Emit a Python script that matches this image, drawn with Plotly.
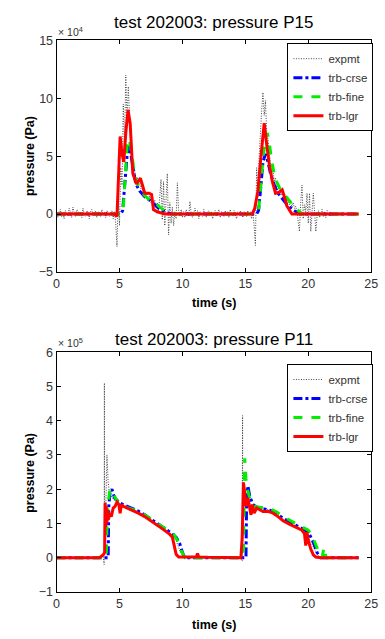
import numpy as np
import plotly.graph_objects as go

# ---------------- top panel: P15 (values in units of 1e4 Pa) ----------------
p15_exp_seg_starts = [0.0, 4.7, 6.1, 8.0, 10.1, 15.7, 17.1, 19.1, 20.3]
p15_exp_segs = [
    [0.1, -0.3, 0.2, 0.4, -0.2, 0.1, -0.4, 0.3, 0.0, -0.2,
     0.5, 0.2, -0.3, 0.6, 0.1, -0.2, 0.4, 0.3, -0.1, 0.2,
     -0.3, 0.5, 0.0, -0.2, 0.3, 0.1, -0.4, 0.2, 0.4, -0.1,
     0.0, 0.3, -0.3, 0.2, 0.1, -0.2, 0.4, -0.1, 0.2, -0.3,
     0.3, 0.0, -0.2, 0.1, 0.3, -0.4, 0.2],
    [-0.8, -2.8, 1.5, -1.0, 4.0, 2.5, 9.5, 6.0, 12.0, 8.0, 11.0, 7.5, 6.0, 4.5],
    [3.5, 3.9, 2.9, 3.2, 2.6, 2.9, 2.2, 2.5, 1.8, 2.1, 1.6, 1.9, 1.2, 1.6, 1.0,
     1.4, 0.8, 1.2, 0.6],
    [1.0, 0.2, 1.5, 3.0, -0.5, 2.8, -1.0, 1.2, 3.5, -1.8, 1.0, -0.8, 0.6, -1.0,
     0.2, -0.4, 2.7, 0.3, -0.2, 0.4, -0.3],
    [0.2, -0.3, 0.4, 0.1, -0.2, 1.1, 0.0, -0.3, 0.2, 0.5,
     -0.1, 0.3, -0.4, 0.2, 0.1, -0.2, 0.4, 0.0, -0.3, 0.2,
     0.3, -0.1, 0.2, -0.4, 0.1, 0.3, -0.2, 0.0, 0.4, -0.3,
     0.2, 0.1, -0.2, 0.3, -0.1, 0.2, -0.3, 0.4, 0.0, -0.2,
     0.3, 0.1, -0.4, 0.2, -0.1, 0.3, 0.0, -0.3, 0.2, 0.1,
     -0.2, 0.3, -0.1, 0.2, -0.4, 0.1],
    [-1.0, -2.7, 4.0, 1.5, 5.0, 7.5, 9.0, 10.5, 8.5, 9.8, 7.0, 6.5, 5.0, 4.2],
    [3.5, 3.8, 2.8, 3.1, 2.3, 2.6, 1.9, 2.2, 1.6, 1.9, 1.3, 1.6, 1.0, 1.4, 0.8,
     1.2, 0.6, 1.0, 0.5, 0.7],
    [0.2, -0.5, -1.5, 1.0, 2.5, -0.4, 0.8, 0.2, 1.8, -0.8, 1.8, -1.5],
    [0.3, 1.8, 0.2, -1.5, -0.2, 0.3, -0.3, 0.1, 0.4, -0.2, 0.2, -0.3, 0.3, 0.0,
     -0.2, 0.2, -0.1, 0.1],
]

p15_crse_t = [0, 5.1, 5.25, 5.45, 5.6, 5.75, 5.9, 6.1, 6.3, 6.6, 7.0, 7.4, 7.8, 8.2, 8.7, 9.2,
              15.9, 16.05, 16.2, 16.4, 16.6, 16.8, 17.0, 17.3, 17.6, 18.0, 18.4, 18.9, 19.3, 24]
p15_crse_y = [0, 0, 0.3, 3.0, 5.0, 5.9, 5.2, 3.8, 2.6, 2.0, 1.5, 1.2, 0.8, 0.4, 0.15, 0,
              0, 0.3, 2.0, 4.5, 5.2, 4.5, 3.5, 2.5, 1.8, 1.2, 0.7, 0.3, 0.0, 0]

p15_fine_t = [0, 5.15, 5.3, 5.45, 5.6, 5.75, 5.9, 6.1, 6.3, 6.6, 7.0, 7.4, 7.8, 8.2, 8.6, 9.0,
              15.9, 16.05, 16.2, 16.4, 16.6, 16.75, 16.9, 17.1, 17.4, 17.7, 18.1, 18.5, 18.9,
              19.3, 19.6, 24]
p15_fine_y = [0, 0, 0.5, 3.5, 5.8, 6.5, 5.8, 4.2, 3.0, 2.2, 1.6, 1.2, 1.0, 0.6, 0.3, 0,
              0, 0.3, 2.0, 4.8, 6.5, 7.0, 6.2, 4.5, 3.0, 2.3, 1.7, 1.1, 0.6,
              0.2, 0, 0]

p15_lgr_t = [0, 4.6, 4.8, 4.95, 5.05, 5.2, 5.34, 5.5, 5.68, 5.85, 6.06, 6.35, 6.66, 6.85,
             7.0, 7.35, 7.55, 7.7, 8.0, 8.6, 15.55, 15.75, 16.0, 16.2, 16.35, 16.5, 16.7,
             16.9, 17.15, 17.4, 17.7, 17.93, 18.1, 18.3, 18.7, 24.0]
p15_lgr_y = [0, 0, -0.2, 3.5, 6.7, 5.2, 4.5, 7.0, 9.0, 7.8, 3.5, 2.6, 3.1, 2.4,
             1.8, 1.8, 1.7, 0.4, 0.2, 0.0, 0.0, 0.5, 2.0, 4.5, 6.5, 7.85, 6.0,
             4.3, 2.8, 1.8, 1.9, 2.1, 1.5, 0.7, 0.0, 0.0]

# ---------------- bottom panel: P11 (values in units of 1e5 Pa) ----------------
p11_exp_t = [0, 3.5, 3.7, 3.78, 3.8, 3.82, 3.85, 3.9, 3.95, 4.0, 4.05, 4.1, 4.2, 4.4, 4.7,
             5.0, 5.5, 6.0, 6.5, 7.0, 7.5, 8.0, 8.5, 9.0, 9.5, 9.8, 10.1, 10.5, 11.0,
             14.6, 14.75, 14.78, 14.8, 14.83, 14.9, 15.0, 15.2, 15.5, 16.0, 16.5, 17.0,
             17.5, 18.0, 18.5, 19.0, 19.5, 20.0, 20.4, 20.7, 21.0, 21.5]
p11_exp_y = [0, 0, 0.05, -0.2, 5.1, 1.0, 1.6, 1.2, 1.8, 3.0, 2.6, 2.2, 1.9, 1.75, 1.65,
             1.58, 1.5, 1.42, 1.33, 1.22, 1.1, 0.98, 0.86, 0.72, 0.5, 0.2, 0.05, 0.02, 0,
             0, -0.1, 4.15, 0.5, 2.2, 2.0, 1.8, 1.65, 1.55, 1.5, 1.45, 1.38,
             1.25, 1.1, 1.0, 0.9, 0.8, 0.6, 0.3, 0.1, 0.0, 0]

p11_crse_t = [0, 4.1, 4.15, 4.25, 4.4, 4.6, 5.0, 5.5, 6.0, 6.5, 7.0, 7.5, 8.0, 8.5, 9.0,
              9.5, 9.8, 10.0, 10.2, 15.05, 15.1, 15.2, 15.35, 15.6, 16.0, 16.5, 17.0,
              17.5, 18.0, 18.5, 19.0, 19.5, 20.0, 20.4, 20.7, 21.0, 24]
p11_crse_y = [0, 0, 1.5, 1.9, 2.0, 1.75, 1.6, 1.52, 1.45, 1.36, 1.25, 1.13, 1.0, 0.88, 0.75,
              0.6, 0.4, 0.15, 0, 0, 1.6, 2.1, 1.8, 1.55, 1.45, 1.42, 1.38,
              1.28, 1.15, 1.05, 0.95, 0.85, 0.75, 0.45, 0.15, 0, 0]

p11_fine_t = [0, 3.95, 4.0, 4.1, 4.25, 4.4, 4.6, 4.9, 5.3, 5.8, 6.3, 6.8, 7.3, 7.8, 8.3,
              8.8, 9.3, 9.7, 9.9, 10.2, 14.85, 14.9, 14.95, 15.05, 15.2, 15.4, 15.7, 16.0,
              16.5, 17.0, 17.5, 18.0, 18.5, 19.0, 19.5, 20.0, 20.3, 20.6, 20.9, 21.1,
              21.25, 21.35, 21.45, 24]
p11_fine_y = [0, 0, 0.8, 1.6, 2.0, 1.95, 1.8, 1.6, 1.5, 1.45, 1.38, 1.3, 1.18, 1.05, 0.93,
              0.82, 0.68, 0.45, 0.2, 0, 0, 1.5, 2.9, 2.3, 1.95, 1.65, 1.5, 1.48,
              1.45, 1.42, 1.33, 1.2, 1.1, 1.0, 0.9, 0.8, 0.65, 0.4, 0.1, 0.0,
              0.3, 0.1, 0.0, 0]

p11_lgr_t = [0, 3.4, 3.7, 3.82, 3.86, 3.9, 3.95, 4.0, 4.05, 4.1, 4.2, 4.35, 4.5, 4.65, 4.8,
             4.95, 5.05, 5.15, 5.3, 5.6, 6.0, 6.5, 7.0, 7.5, 8.0, 8.5, 9.0, 9.2, 9.35, 9.5,
             9.7, 10.5, 11.1, 11.2, 11.3, 12, 14.65, 14.75, 14.85, 14.95, 15.05, 15.2,
             15.35, 15.45, 15.55, 15.7, 15.9, 16.1, 16.4, 16.8, 17.2, 17.6, 18.0, 18.5,
             19.0, 19.5, 19.7, 19.8, 19.9, 20.0, 20.2, 20.4, 20.6, 21.0, 24]
p11_lgr_y = [0, 0, 0.08, 0.15, 1.6, 0.9, 1.5, 1.0, 1.4, 1.1, 1.3, 1.2, 1.45, 1.5, 1.62,
             1.55, 1.3, 1.55, 1.5, 1.45, 1.4, 1.3, 1.2, 1.08, 0.95, 0.82, 0.68, 0.6, 0.35, 0.1,
             0.02, 0.02, 0.02, 0.12, 0.02, 0.01, 0, 0.6, 2.2, 1.9, 1.5, 1.75,
             1.5, 1.25, 1.55, 1.3, 1.45, 1.4, 1.35, 1.35, 1.3, 1.2, 1.08, 0.98,
             0.88, 0.8, 0.7, 0.35, 0.75, 0.5, 0.25, 0.08, 0.02, 0, 0]

series_names = ["expmt", "trb-crse", "trb-fine", "trb-lgr"]
x_ticks = [0, 5, 10, 15, 20, 25]
p15_y_ticks = [-5, 0, 5, 10, 15]
p11_y_ticks = [-1, 0, 1, 2, 3, 4, 5, 6]
titles = ["test 202003: pressure P15", "test 202003: pressure P11"]
exponents = ["× 10<sup>4</sup>", "× 10<sup>5</sup>"]

# build expmt time for P15 from its segments (0.1 s sampling)
p15_exp_t, p15_exp_y = [], []
for st, seg in zip(p15_exp_seg_starts, p15_exp_segs):
    for i, v in enumerate(seg):
        p15_exp_t.append(round(st + 0.1 * i, 2))
        p15_exp_y.append(v)

W, H = 385, 639
FONT = "Liberation Sans, Arial, sans-serif"

styles = [
    dict(color="#333333", width=0.9, dash="1px,1.5px"),
    dict(color="#0000ff", width=3, dash="dashdot"),
    dict(color="#00ee00", width=3, dash="dash"),
    dict(color="#ff0000", width=3, dash="solid"),
]

fig = go.Figure()
panels = [
    ("x", "y", "legend", [(p15_exp_t, p15_exp_y), (p15_crse_t, p15_crse_y),
                          (p15_fine_t, p15_fine_y), (p15_lgr_t, p15_lgr_y)]),
    ("x2", "y2", "legend2", [(p11_exp_t, p11_exp_y), (p11_crse_t, p11_crse_y),
                             (p11_fine_t, p11_fine_y), (p11_lgr_t, p11_lgr_y)]),
]
for xa, ya, lg, data in panels:
    for name, (tt, yy), st in zip(series_names, data, styles):
        fig.add_trace(go.Scatter(x=tt, y=yy, mode="lines", name=name, line=st,
                                 xaxis=xa, yaxis=ya, legend=lg))

def px_x(p):
    return p / W

def px_y(p):
    return 1 - p / H

L, R = 55, 378
axis_common = dict(showline=True, linecolor="black", linewidth=1, mirror="allticks",
                   ticks="inside", ticklen=4, tickcolor="black", showgrid=False,
                   zeroline=False, tickfont=dict(family=FONT, size=12.5, color="#333"))

legend_common = dict(xanchor="left", yanchor="top", bordercolor="black", borderwidth=1,
                     bgcolor="white", font=dict(family=FONT, size=11.5, color="#333"),
                     itemwidth=30, tracegroupgap=0)

fig.update_layout(
    width=W, height=H, margin=dict(l=0, r=0, t=0, b=0),
    paper_bgcolor="white", plot_bgcolor="white",
    font=dict(family=FONT, color="black"),
    xaxis=dict(domain=[px_x(L), px_x(R)], range=[0, 25], tickvals=x_ticks, anchor="y",
               **axis_common),
    yaxis=dict(domain=[px_y(271), px_y(34)], range=[-5, 15], tickvals=p15_y_ticks,
               anchor="x", **axis_common),
    xaxis2=dict(domain=[px_x(L), px_x(R)], range=[0, 25], tickvals=x_ticks, anchor="y2",
                **axis_common),
    yaxis2=dict(domain=[px_y(598), px_y(353)], range=[-1, 6], tickvals=p11_y_ticks,
                anchor="x2", **axis_common),
    legend=dict(x=px_x(292), y=px_y(37), **legend_common),
    legend2=dict(x=px_x(292), y=px_y(365), **legend_common),
    showlegend=True,
)

ann = []
for i, (ty, ey, xly, yly) in enumerate([(16, 25, 303, 152), (340, 343, 632, 476)]):
    ann.append(dict(text=titles[i], x=px_x((L + R) / 2), y=px_y(ty), xref="paper",
                    yref="paper", showarrow=False, xanchor="center", yanchor="middle",
                    font=dict(family=FONT, size=17, color="black")))
    ann.append(dict(text=exponents[i], x=px_x(L - 1), y=px_y(ey), xref="paper",
                    yref="paper", showarrow=False, xanchor="left", yanchor="middle",
                    font=dict(family=FONT, size=10.5, color="#333")))
    ann.append(dict(text="<b>time (s)</b>", x=px_x((L + R) / 2), y=px_y(xly),
                    xref="paper", yref="paper", showarrow=False, xanchor="center",
                    yanchor="middle", font=dict(family=FONT, size=12.5, color="black")))
    ann.append(dict(text="<b>pressure (Pa)</b>", x=px_x(27), y=px_y(yly), xref="paper",
                    yref="paper", showarrow=False, xanchor="center", yanchor="middle",
                    textangle=-90, font=dict(family=FONT, size=12.5, color="black")))
fig.update_layout(annotations=ann)

fig.write_html(
    "out.html",
    config={"displayModeBar": False},
    post_script="document.body.style.margin='0';document.body.style.overflow='hidden';",
)
